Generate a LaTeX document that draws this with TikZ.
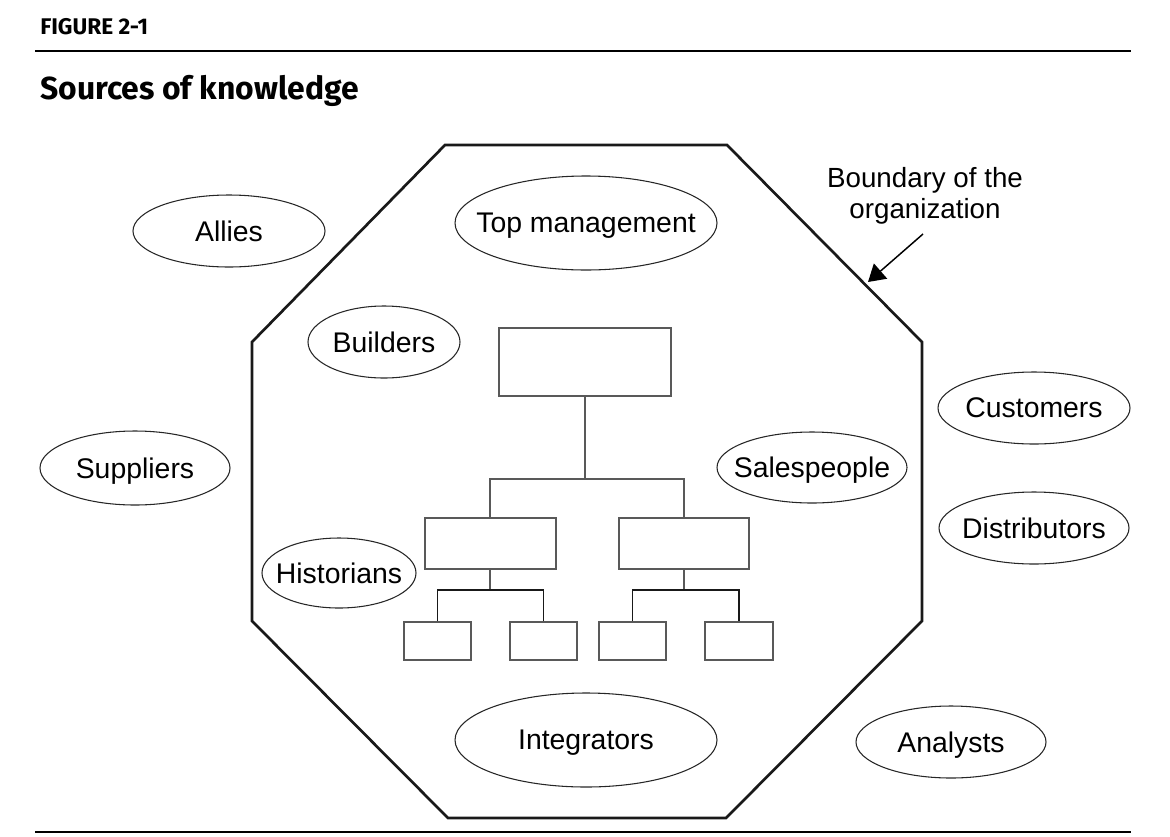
\documentclass[tikz,border=0pt]{standalone}
\usepackage{fontspec}
\setmainfont{Liberation Sans}
\newfontfamily\headfont{Fira Sans}
\usetikzlibrary{shapes.geometric,arrows.meta}
\newcommand{\lbl}[1]{\makebox[0pt][c]{#1}}
\begin{document}
\begin{tikzpicture}[x=0.75pt,y=-0.75pt,
  src/.style={draw=black!85, ellipse, line width=0.8pt, inner sep=0pt, text depth=0pt,
    font=\fontsize{21.3}{25}\selectfont},
  orgbox/.style={draw=black!65, line width=1.5pt, rectangle, inner sep=0pt},
  orgline/.style={draw=black!65, line width=1.2pt},
  orglow/.style={draw=black!90, line width=1.3pt},
  boundary/.style={draw=black!90, line width=2pt, line join=miter},
  rule/.style={draw=black, line width=1.6pt},
  headsmall/.style={anchor=base west, inner sep=0pt, font=\headfont\bfseries\fontsize{17}{19}\selectfont},
  headbig/.style={anchor=base west, inner sep=0pt, font=\headfont\bfseries\fontsize{23.9}{28}\selectfont},
  note/.style={align=center, inner sep=0pt, font=\fontsize{20.8}{23.5}\selectfont},
  pointer/.style={draw=black, line width=1.1pt, -{Triangle[length=12.5pt,width=15pt]}},
]
\useasboundingbox (0,0) rectangle (1170,836);

% headings and rules
\node[headsmall] (fig) at (40,34) {FIGURE 2-1};
\draw[rule] (35,51) -- (1131,51);
\node[headbig] (ttl) at (40,99) {Sources of knowledge};
\draw[rule] (35,832) -- (1131,832);

% organization boundary (octagon)
\draw[boundary] (445,145) -- (727,145) -- (922,342) -- (922,621) -- (726,818)
  -- (448,818) -- (252,621) -- (252,342) -- cycle;

% boundary label and arrow
\node[note] (bnd) at (925,196) {Boundary of the\\organization};
\coordinate (atail) at (923,234);
\coordinate (ahead) at (868,282);
\draw[pointer] (atail) -- (ahead);

% sources of knowledge
\node[src, minimum width=192*0.75pt, minimum height=72*0.75pt] (allies) at (229,231) {\lbl{Allies}};
\node[src, minimum width=262*0.75pt, minimum height=94*0.75pt] (topm) at (586,223) {\lbl{Top management}};
\node[src, minimum width=152*0.75pt, minimum height=72*0.75pt] (builders) at (384,342) {\lbl{Builders}};
\node[src, minimum width=190*0.75pt, minimum height=74*0.75pt] (suppliers) at (135,468) {\lbl{Suppliers}};
\node[src, minimum width=154*0.75pt, minimum height=70*0.75pt] (historians) at (339,573) {\lbl{Historians}};
\node[src, minimum width=190*0.75pt, minimum height=71*0.75pt] (sales) at (812,467.5) {\lbl{Salespeople}};
\node[src, minimum width=192*0.75pt, minimum height=72*0.75pt] (customers) at (1034,408) {\lbl{Customers}};
\node[src, minimum width=190*0.75pt, minimum height=72*0.75pt] (distributors) at (1034,528) {\lbl{Distributors}};
\node[src, minimum width=262*0.75pt, minimum height=94*0.75pt] (integrators) at (586,740) {\lbl{Integrators}};
\node[src, minimum width=190*0.75pt, minimum height=72*0.75pt] (analysts) at (951,742) {\lbl{Analysts}};

% organization chart
\node[orgbox, minimum width=172*0.75pt, minimum height=68*0.75pt] (top) at (585,362) {};
\node[orgbox, minimum width=131*0.75pt, minimum height=51*0.75pt] (ml) at (490,543.5) {};
\node[orgbox, minimum width=130*0.75pt, minimum height=51*0.75pt] (mr) at (684,543.5) {};
\node[orgbox, minimum width=67*0.75pt, minimum height=38*0.75pt] (s1) at (437.5,641) {};
\node[orgbox, minimum width=67*0.75pt, minimum height=38*0.75pt] (s2) at (543.5,641) {};
\node[orgbox, minimum width=67*0.75pt, minimum height=38*0.75pt] (s3) at (632.5,641) {};
\node[orgbox, minimum width=68*0.75pt, minimum height=38*0.75pt] (s4) at (739,641) {};

\coordinate (b1) at (585,479);
\coordinate (b2) at (490,590);
\coordinate (b3) at (684,590);
\draw[orgline] (top.south) -- (b1);
\draw[orgline] (ml.north) |- (b1) -| (mr.north);
\draw[orgline] (ml.south) -- (b2);
\draw[orglow] (s1.north) |- (b2) -| (s2.north);
\draw[orgline] (mr.south) -- (b3);
\draw[orglow] (s3.north) |- (b3) -| (s4.north);
\end{tikzpicture}
\end{document}
